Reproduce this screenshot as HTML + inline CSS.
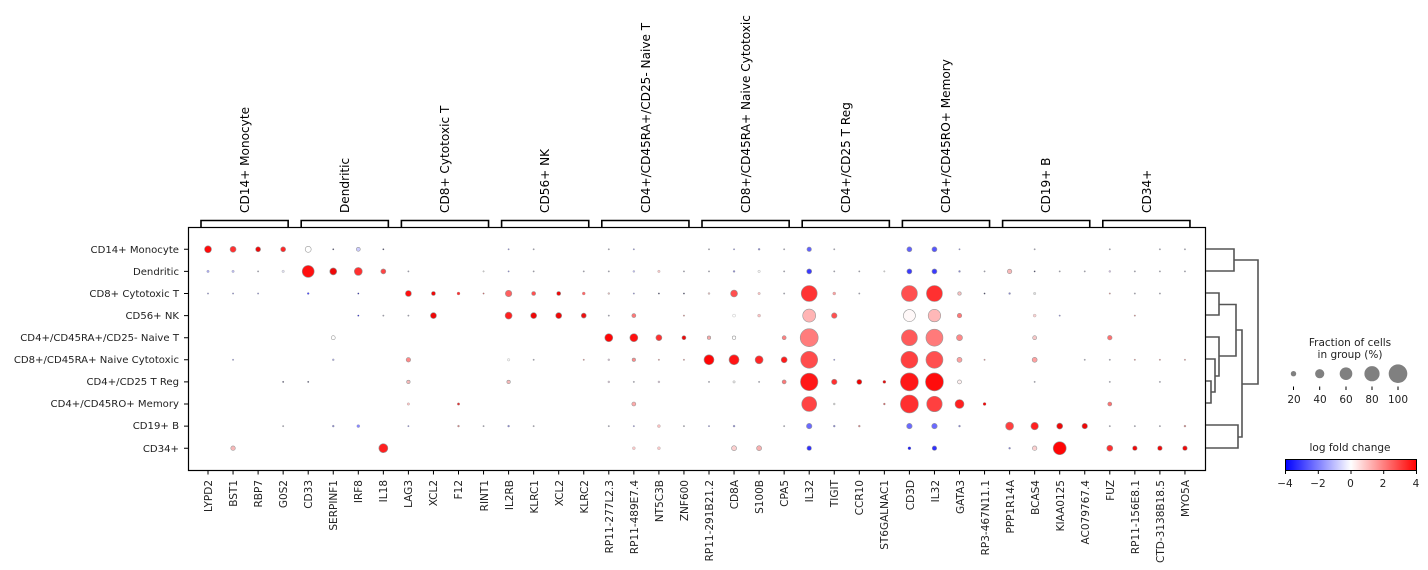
<!DOCTYPE html>
<html><head><meta charset="utf-8">
<style>
html,body{margin:0;padding:0;background:#fff;}
svg{display:block;font-family:"DejaVu Sans","Liberation Sans",sans-serif;}
</style></head>
<body>
<svg id="s" width="1428" height="570" viewBox="0 0 1428 570" xmlns="http://www.w3.org/2000/svg">
<defs>
<linearGradient id="bwr" x1="0" x2="1" y1="0" y2="0">
<stop offset="0" stop-color="#0000ff"/><stop offset="0.5" stop-color="#ffffff"/><stop offset="1" stop-color="#ff0000"/>
</linearGradient>
</defs>
<rect x="188.5" y="227.5" width="1017" height="243" fill="none" stroke="#000" stroke-width="1.2"/>
<g id="dots"></g>
<g id="ticks" stroke="#000" stroke-width="1"></g>
<!-- row labels -->
<g font-size="10.1" fill="#222" text-anchor="end">
<text x="179" y="253">CD14+ Monocyte</text>
<text x="179" y="275">Dendritic</text>
<text x="179" y="297">CD8+ Cytotoxic T</text>
<text x="179" y="319">CD56+ NK</text>
<text x="179" y="341">CD4+/CD45RA+/CD25- Naive T</text>
<text x="179" y="363">CD8+/CD45RA+ Naive Cytotoxic</text>
<text x="179" y="385">CD4+/CD25 T Reg</text>
<text x="179" y="407">CD4+/CD45RO+ Memory</text>
<text x="179" y="429">CD19+ B</text>
<text x="179" y="452">CD34+</text>
</g>
<!-- gene labels -->
<g font-size="10.5" fill="#222" text-anchor="end">
<text transform="translate(212,480) rotate(-90)">LYPD2</text>
<text transform="translate(237,480) rotate(-90)">BST1</text>
<text transform="translate(262,480) rotate(-90)">RBP7</text>
<text transform="translate(287,480) rotate(-90)">G0S2</text>
<text transform="translate(312,480) rotate(-90)">CD33</text>
<text transform="translate(337,480) rotate(-90)">SERPINF1</text>
<text transform="translate(362,480) rotate(-90)">IRF8</text>
<text transform="translate(387,480) rotate(-90)">IL18</text>
<text transform="translate(412,480) rotate(-90)">LAG3</text>
<text transform="translate(437,480) rotate(-90)">XCL2</text>
<text transform="translate(462,480) rotate(-90)">F12</text>
<text transform="translate(488,480) rotate(-90)">RINT1</text>
<text transform="translate(513,480) rotate(-90)">IL2RB</text>
<text transform="translate(538,480) rotate(-90)">KLRC1</text>
<text transform="translate(563,480) rotate(-90)">XCL2</text>
<text transform="translate(588,480) rotate(-90)">KLRC2</text>
<text transform="translate(613,480) rotate(-90)">RP11-277L2.3</text>
<text transform="translate(638,480) rotate(-90)">RP11-489E7.4</text>
<text transform="translate(663,480) rotate(-90)">NT5C3B</text>
<text transform="translate(688,480) rotate(-90)">ZNF600</text>
<text transform="translate(713,480) rotate(-90)">RP11-291B21.2</text>
<text transform="translate(738,480) rotate(-90)">CD8A</text>
<text transform="translate(763,480) rotate(-90)">S100B</text>
<text transform="translate(788,480) rotate(-90)">CPA5</text>
<text transform="translate(813,480) rotate(-90)">IL32</text>
<text transform="translate(838,480) rotate(-90)">TIGIT</text>
<text transform="translate(863,480) rotate(-90)">CCR10</text>
<text transform="translate(888,480) rotate(-90)">ST6GALNAC1</text>
<text transform="translate(914,480) rotate(-90)">CD3D</text>
<text transform="translate(939,480) rotate(-90)">IL32</text>
<text transform="translate(964,480) rotate(-90)">GATA3</text>
<text transform="translate(989,480) rotate(-90)">RP3-467N11.1</text>
<text transform="translate(1014,480) rotate(-90)">PPP1R14A</text>
<text transform="translate(1039,480) rotate(-90)">BCAS4</text>
<text transform="translate(1064,480) rotate(-90)">KIAA0125</text>
<text transform="translate(1089,480) rotate(-90)">AC079767.4</text>
<text transform="translate(1114,480) rotate(-90)">FUZ</text>
<text transform="translate(1139,480) rotate(-90)">RP11-156E8.1</text>
<text transform="translate(1164,480) rotate(-90)">CTD-3138B18.5</text>
<text transform="translate(1189,480) rotate(-90)">MYO5A</text>
</g>
<!-- group brackets -->
<g id="br" fill="none" stroke="#000" stroke-width="1.6"></g>
<g font-size="12.1" fill="#000">
<text transform="translate(249,213) rotate(-90)">CD14+ Monocyte</text>
<text transform="translate(349,213) rotate(-90)">Dendritic</text>
<text transform="translate(449,213) rotate(-90)">CD8+ Cytotoxic T</text>
<text transform="translate(549,213) rotate(-90)">CD56+ NK</text>
<text transform="translate(650,213) rotate(-90)">CD4+/CD45RA+/CD25- Naive T</text>
<text transform="translate(750,213) rotate(-90)">CD8+/CD45RA+ Naive Cytotoxic</text>
<text transform="translate(850,213) rotate(-90)">CD4+/CD25 T Reg</text>
<text transform="translate(950,213) rotate(-90)">CD4+/CD45RO+ Memory</text>
<text transform="translate(1050,213) rotate(-90)">CD19+ B</text>
<text transform="translate(1151,213) rotate(-90)">CD34+</text>
</g>
<!-- dendrogram -->
<g fill="none" stroke="#555" stroke-width="1.6">
<path d="M1206,249 H1234 V271 H1206"/>
<path d="M1234,260 H1258 V384 H1242"/>
<path d="M1206,293 H1219 V315 H1206"/>
<path d="M1219,304.5 H1236 V356 H1219"/>
<path d="M1206,337 H1219 V376 H1215"/>
<path d="M1206,359 H1215 V392 H1211"/>
<path d="M1206,381 H1211 V403 H1206"/>
<path d="M1236,330 H1242 V437 H1238"/>
<path d="M1206,425 H1238 V448 H1206"/>
</g>
<!-- size legend -->
<g font-size="10.5" fill="#222" text-anchor="middle">
<text x="1350" y="346">Fraction of cells</text>
<text x="1350" y="358">in group (%)</text>
<text x="1294" y="403">20</text>
<text x="1320" y="403">40</text>
<text x="1346" y="403">60</text>
<text x="1372" y="403">80</text>
<text x="1398" y="403">100</text>
<text x="1350" y="451">log fold change</text>
<text x="1285" y="487">−4</text>
<text x="1318" y="487">−2</text>
<text x="1350.5" y="487">0</text>
<text x="1383" y="487">2</text>
<text x="1416" y="487">4</text>
</g>
<g fill="#808080">
<circle cx="1293.5" cy="373.7" r="2.7"/>
<circle cx="1319.7" cy="373.7" r="4.6"/>
<circle cx="1346" cy="373.7" r="6.3"/>
<circle cx="1372" cy="373.7" r="7.6"/>
<circle cx="1398" cy="373.7" r="9.3"/>
</g>
<g stroke="#000" stroke-width="1">
<path d="M1293.5,386.5V390 M1319.7,386.5V390 M1346,386.5V390 M1372,386.5V390 M1398,386.5V390"/>
<path d="M1285.5,470V474 M1318.3,470V474 M1351,470V474 M1383.7,470V474 M1416.5,470V474"/>
</g>
<rect x="1285.5" y="459.5" width="131" height="11" fill="url(#bwr)" stroke="#000" stroke-width="1"/>
</svg>
<script>
(function(){
var NS="http://www.w3.org/2000/svg";
function cx(i){return 208+25.05*i;}
function cy(r){return 249.3+22.1*r;}
var T="#99a",TB="#88c",TR="#c88",TP="#dbb";
var data=[
[[0,7,"#ff0a0a"],[1,6,"#ff3030"],[2,5,"#ee0808"],[3,5,"#ff2525"],[4,6,"#ffffff"],[5,1.5,"#446"],[6,4,"#ccccff"],[7,1.5,"#446"],[12,1.5,TB],[13,1.5,T],[16,1.5,T],[17,1.5,TB],[20,1.5,T],[21,1.5,TB],[22,2,TB],[23,1.5,T],[24,4.5,"#6060ff"],[25,1.5,T],[28,5,"#6060ff"],[29,5,"#5555ff"],[30,1.5,TB],[33,1.5,T],[36,1.5,T],[38,1.5,T],[39,1.5,T]],
[[0,2.5,"#aaaaee"],[1,2.5,"#bbbbee"],[2,1.5,T],[3,2.5,"#ddddee"],[4,12,"#ff1010"],[5,7,"#ee0808"],[6,8,"#ff3030"],[7,5,"#ff4444"],[8,1.5,T],[11,1.5,"#ccc"],[12,1.5,TB],[13,1.5,T],[15,1.5,T],[16,1.5,T],[17,2,"#bbbbee"],[18,2.5,"#f5c5c5"],[19,1.5,T],[20,1.5,T],[21,2,TB],[22,2.5,"#f0f0f0"],[23,1.5,T],[24,5,"#3a3aff"],[25,1.5,T],[26,1.5,T],[27,1.5,"#ccc"],[28,5,"#3a3aff"],[29,5,"#3a3aff"],[30,2,TB],[31,1.5,T],[32,4.5,"#f8b8b8"],[33,1.5,"#446"],[34,1.5,T],[35,1.5,T],[36,2,"#ccbbdd"],[37,1.5,T],[38,1.5,T],[39,1.5,T]],
[[0,1.5,TB],[1,1.5,TB],[2,1.5,TB],[4,2,"#4444ff"],[6,1.5,"#2222aa"],[8,6,"#ff1010"],[9,4,"#ee0808"],[10,3,"#ff3030"],[11,1.5,"#c66"],[12,6.5,"#ff6060"],[13,4,"#ff5050"],[14,4,"#ee0808"],[15,3,"#ff6666"],[16,2,TP],[17,1.5,TB],[18,1.5,"#446"],[19,1.5,"#446"],[20,2,TP],[21,7,"#ff5050"],[22,2.5,"#f8c0c0"],[23,1.5,T],[24,16,"#ff3434"],[25,3,"#f8a0a0"],[26,1.5,T],[28,16,"#ff5050"],[29,16,"#ff3030"],[30,3.5,"#f8c0c0"],[31,1.5,"#446"],[32,2,TB],[33,2.5,"#ddd"],[36,1.5,TR],[37,1.5,T],[38,1.5,T]],
[[6,1.5,"#2222cc"],[7,1.5,T],[8,1.5,T],[9,6,"#ee0808"],[12,7,"#ff2020"],[13,6,"#ee0808"],[14,6,"#ee0808"],[15,5,"#ee1010"],[16,1.5,T],[17,4,"#ff7777"],[19,1.5,TR],[21,3,"#ffffff"],[22,3,"#f8c0c0"],[24,13,"#ffb4b4"],[25,5.5,"#ff5050"],[28,12,"#fff8f8"],[29,12.5,"#ffb8b8"],[30,4.5,"#ff7777"],[33,3,"#f8d0d0"],[34,1.5,TB],[37,1.5,TR]],
[[5,4,"#ffffff"],[16,8,"#ff0505"],[17,8,"#ff1010"],[18,6,"#ff3030"],[19,4,"#ee0808"],[20,3.5,"#f8a8a8"],[21,3.5,"#ffffff"],[23,4,"#ff8080"],[24,18,"#ff7c7c"],[28,16,"#ff5a5a"],[29,17,"#ff7a7a"],[30,6,"#ff8888"],[33,4,"#f8c8c8"],[36,4.5,"#ff7070"]],
[[1,1.5,TB],[5,2,"#aaaadd"],[8,4.5,"#ff8888"],[12,2.5,"#f4f4f4"],[13,1.5,T],[15,1.5,TR],[16,2,"#ccbbcc"],[17,3.5,"#ff8888"],[18,1.5,TR],[19,1.5,TR],[20,10,"#ff0505"],[21,10,"#ff1515"],[22,8,"#ff2525"],[23,6,"#ff1a1a"],[24,17,"#ff4c4c"],[25,1.5,TB],[28,17,"#ff4040"],[29,17,"#ff5050"],[30,5,"#ffa0a0"],[31,1.5,TR],[33,5,"#ffa0a0"],[35,1.5,T],[36,1.5,T],[37,1.5,TR],[38,1.5,TR],[39,1.5,TR]],
[[3,1.5,"#446"],[4,1.5,"#446"],[8,3.5,"#f8b8b8"],[12,3.5,"#f8b8b8"],[16,2,"#ccbbcc"],[17,1.5,T],[18,2,"#ccbbcc"],[20,1.5,T],[21,2.5,"#ddd"],[22,1.5,T],[23,4,"#ff7777"],[24,17.5,"#ff1818"],[25,5.5,"#ff3030"],[26,5,"#ee0000"],[27,3,"#dd1111"],[28,18,"#ff1818"],[29,18,"#ff0c0c"],[30,4,"#fff0f0"],[33,1.5,T],[36,1.5,T],[38,1.5,T]],
[[8,2.5,"#f8c0c0"],[10,2.5,"#dd3333"],[17,4,"#ffaaaa"],[24,15,"#ff4444"],[25,2,"#ccc"],[27,2,"#c66"],[28,18,"#ff3030"],[29,15.5,"#ff4040"],[30,9,"#ff2020"],[31,3,"#ee0808"],[36,4,"#ff7070"]],
[[3,1.5,T],[5,2,TB],[6,3,"#8888ff"],[8,1.5,TB],[10,2,TR],[11,1.5,T],[12,2,TB],[13,1.5,T],[16,1.5,T],[17,1.5,TB],[18,3,"#f8c0c0"],[19,1.5,T],[20,1.5,TB],[21,2,TB],[23,1.5,T],[24,5.5,"#6a6aff"],[25,2,TB],[26,2,TR],[28,5.5,"#6a6aff"],[29,5.5,"#6a6aff"],[30,2,TB],[32,8,"#ff4040"],[33,7.5,"#ff2020"],[34,6,"#ee0808"],[35,5.5,"#ee0808"],[36,1.5,T],[37,1.5,T],[38,1.5,T],[39,2,TR]],
[[1,4.5,"#f8b8b8"],[7,9,"#ff2020"],[17,3,"#f8c8c8"],[18,3,"#f8c8c8"],[21,5,"#fcd0d0"],[22,5,"#f8b0b0"],[24,4.5,"#3030ff"],[28,3,"#2222ee"],[29,4.5,"#3030ff"],[32,2,TB],[33,4.5,"#fcd0d0"],[34,13,"#ff0505"],[36,6,"#ff3030"],[37,4.5,"#ee0808"],[38,4.5,"#ee0808"],[39,4.5,"#ee0808"]]
];
var g=document.getElementById("dots");
data.forEach(function(row,r){row.forEach(function(d){
 var c=document.createElementNS(NS,"circle");
 c.setAttribute("cx",cx(d[0]));c.setAttribute("cy",cy(r));c.setAttribute("r",d[1]/2);
 c.setAttribute("fill",d[2]);c.setAttribute("stroke","#999");c.setAttribute("stroke-width",d[1]>3?0.6:0.3);
 g.appendChild(c);});});
var t=document.getElementById("ticks"),p="";
for(var i=0;i<40;i++){p+="M"+cx(i)+",470.5V474.5 ";}
for(var r=0;r<10;r++){p+="M184,"+cy(r)+"H188.5 ";}
var pa=document.createElementNS(NS,"path");pa.setAttribute("d",p);t.appendChild(pa);
var b=document.getElementById("br"),q="";
for(var k=0;k<10;k++){var a=cx(4*k)-7,e=cx(4*k+3)+5;q+="M"+a+",227V220.5H"+e+"V227 ";}
var pb=document.createElementNS(NS,"path");pb.setAttribute("d",q);b.appendChild(pb);
})();
</script>
</body></html>
